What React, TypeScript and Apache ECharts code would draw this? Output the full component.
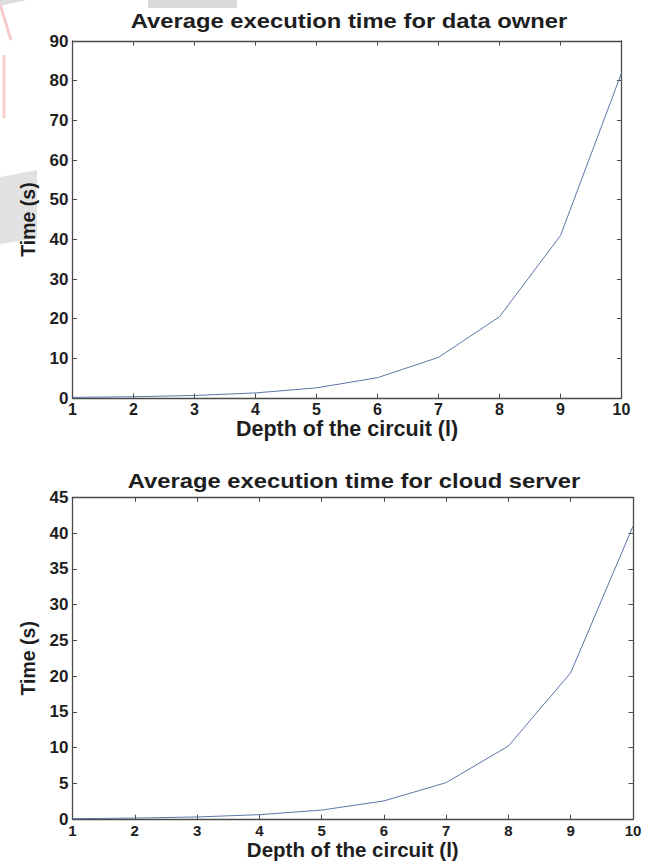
import React, { useEffect, useRef } from "react";
import * as echarts from "echarts";

const depths = [1, 2, 3, 4, 5, 6, 7, 8, 9, 10];
const ownerTimes = [0.16, 0.32, 0.64, 1.28, 2.56, 5.12, 10.24, 20.48, 40.96, 81.92];
const serverTimes = [0.08, 0.16, 0.32, 0.64, 1.28, 2.56, 5.12, 10.24, 20.48, 40.96];
const titles = ["Average execution time for data owner", "Average execution time for cloud server"];
const xName = "Depth of the circuit (l)";
const yName = "Time (s)";
const yMax = [90, 45];
const yStep = [10, 5];

const FONT = "'Liberation Sans', Arial, Helvetica, sans-serif";
const TEXT = "#1e1e1e";
const FRAME = "#4a4a4a";
const LINE = "#5b76a8";

export default function App() {
  const ref = useRef<HTMLDivElement>(null);
  useEffect(() => {
    if (!ref.current) return;
    const chart = echarts.init(ref.current, undefined, { renderer: "svg" });
    const grids = [
      { left: 72.5, top: 41, width: 549, height: 357 },
      { left: 72.5, top: 497.3, width: 560.5, height: 325.4 },
    ];
    const titlePos = [
      [349, 21.5],
      [354, 481.5],
    ];
    const nameGapsX = [20.5, 20];
    const xLabelSize = [16, 15];
    const xLabelMargin = [4, 3.5];
    const xNameSize = [21.5, 20.5];
    const xAxes: any[] = [];
    const yAxes: any[] = [];
    grids.forEach((g, i) => {
      const tickCommon = {
        axisTick: { show: true, inside: true, length: 4.5, lineStyle: { color: FRAME, width: 1 } },
        axisLine: { show: true, onZero: false, lineStyle: { color: FRAME, width: 1.3 } },
        splitLine: { show: false },
      };
      xAxes.push({
        type: "value",
        gridIndex: i,
        position: "bottom",
        min: 1,
        max: 10,
        interval: 1,
        ...tickCommon,
        axisLabel: {
          color: TEXT,
          fontFamily: FONT,
          fontWeight: "bold",
          fontSize: xLabelSize[i],
          lineHeight: 15,
          margin: xLabelMargin[i],
        },
        name: xName,
        nameLocation: "middle",
        nameGap: nameGapsX[i],
        nameMoveOverlap: false,
        nameTextStyle: {
          color: TEXT,
          fontFamily: FONT,
          fontWeight: "bold",
          fontSize: xNameSize[i],
          lineHeight: xNameSize[i],
          verticalAlign: "top",
        },
      });
      xAxes.push({
        type: "value",
        gridIndex: i,
        position: "top",
        min: 1,
        max: 10,
        interval: 1,
        ...tickCommon,
        axisLabel: { show: false },
      });
      yAxes.push({
        type: "value",
        gridIndex: i,
        position: "left",
        min: 0,
        max: yMax[i],
        interval: yStep[i],
        ...tickCommon,
        axisLabel: { color: TEXT, fontFamily: FONT, fontWeight: "bold", fontSize: 17, lineHeight: 14, margin: 4 },
        name: yName,
        nameLocation: "middle",
        nameGap: 45,
        nameRotate: 90,
        nameMoveOverlap: false,
        nameTextStyle: { color: TEXT, fontFamily: FONT, fontWeight: "bold", fontSize: 19.5, verticalAlign: "middle" },
      });
      yAxes.push({
        type: "value",
        gridIndex: i,
        position: "right",
        min: 0,
        max: yMax[i],
        interval: yStep[i],
        ...tickCommon,
        axisLabel: { show: false },
      });
    });
    const titleTexts = titles.map((t, i) => ({
      type: "text",
      x: titlePos[i][0],
      y: titlePos[i][1],
      scaleX: 1.22,
      style: {
        text: t,
        fill: TEXT,
        font: `bold 19.5px ${FONT}`,
        textAlign: "center",
        textVerticalAlign: "middle",
      },
      z: 10,
    }));
    chart.setOption({
      animation: false,
      backgroundColor: "#ffffff",
      graphic: [
        { type: "rect", shape: { x: 148, y: 0, width: 89, height: 8 }, style: { fill: "#d9d9d9" }, z: -10 },
        { type: "polygon", shape: { points: [[0, 0], [27, 0], [0, 6]] }, style: { fill: "#dddddd" }, z: -10 },
        { type: "polygon", shape: { points: [[0, 177], [37, 170], [37, 238], [0, 244]] }, style: { fill: "#e2e2e2" }, z: -10 },
        { type: "line", shape: { x1: 0, y1: 4, x2: 11, y2: 40 }, style: { stroke: "#f6cccc", lineWidth: 3 }, z: -10 },
        { type: "line", shape: { x1: 4, y1: 55, x2: 4, y2: 118 }, style: { stroke: "#f6cccc", lineWidth: 3 }, z: -10 },
        ...titleTexts,
      ],
      grid: grids.map((g) => ({ ...g, show: false, containLabel: false })),
      xAxis: xAxes,
      yAxis: yAxes,
      series: [
        {
          type: "line",
          xAxisIndex: 0,
          yAxisIndex: 0,
          data: depths.map((d, k) => [d, ownerTimes[k]]),
          symbol: "none",
          lineStyle: { color: LINE, width: 1 },
        },
        {
          type: "line",
          xAxisIndex: 2,
          yAxisIndex: 2,
          data: depths.map((d, k) => [d, serverTimes[k]]),
          symbol: "none",
          lineStyle: { color: LINE, width: 1 },
        },
      ],
    });
    return () => chart.dispose();
  }, []);
  return (
    <div
      ref={ref}
      style={{ position: "fixed", left: 0, top: 0, width: 661, height: 861 }}
    />
  );
}
